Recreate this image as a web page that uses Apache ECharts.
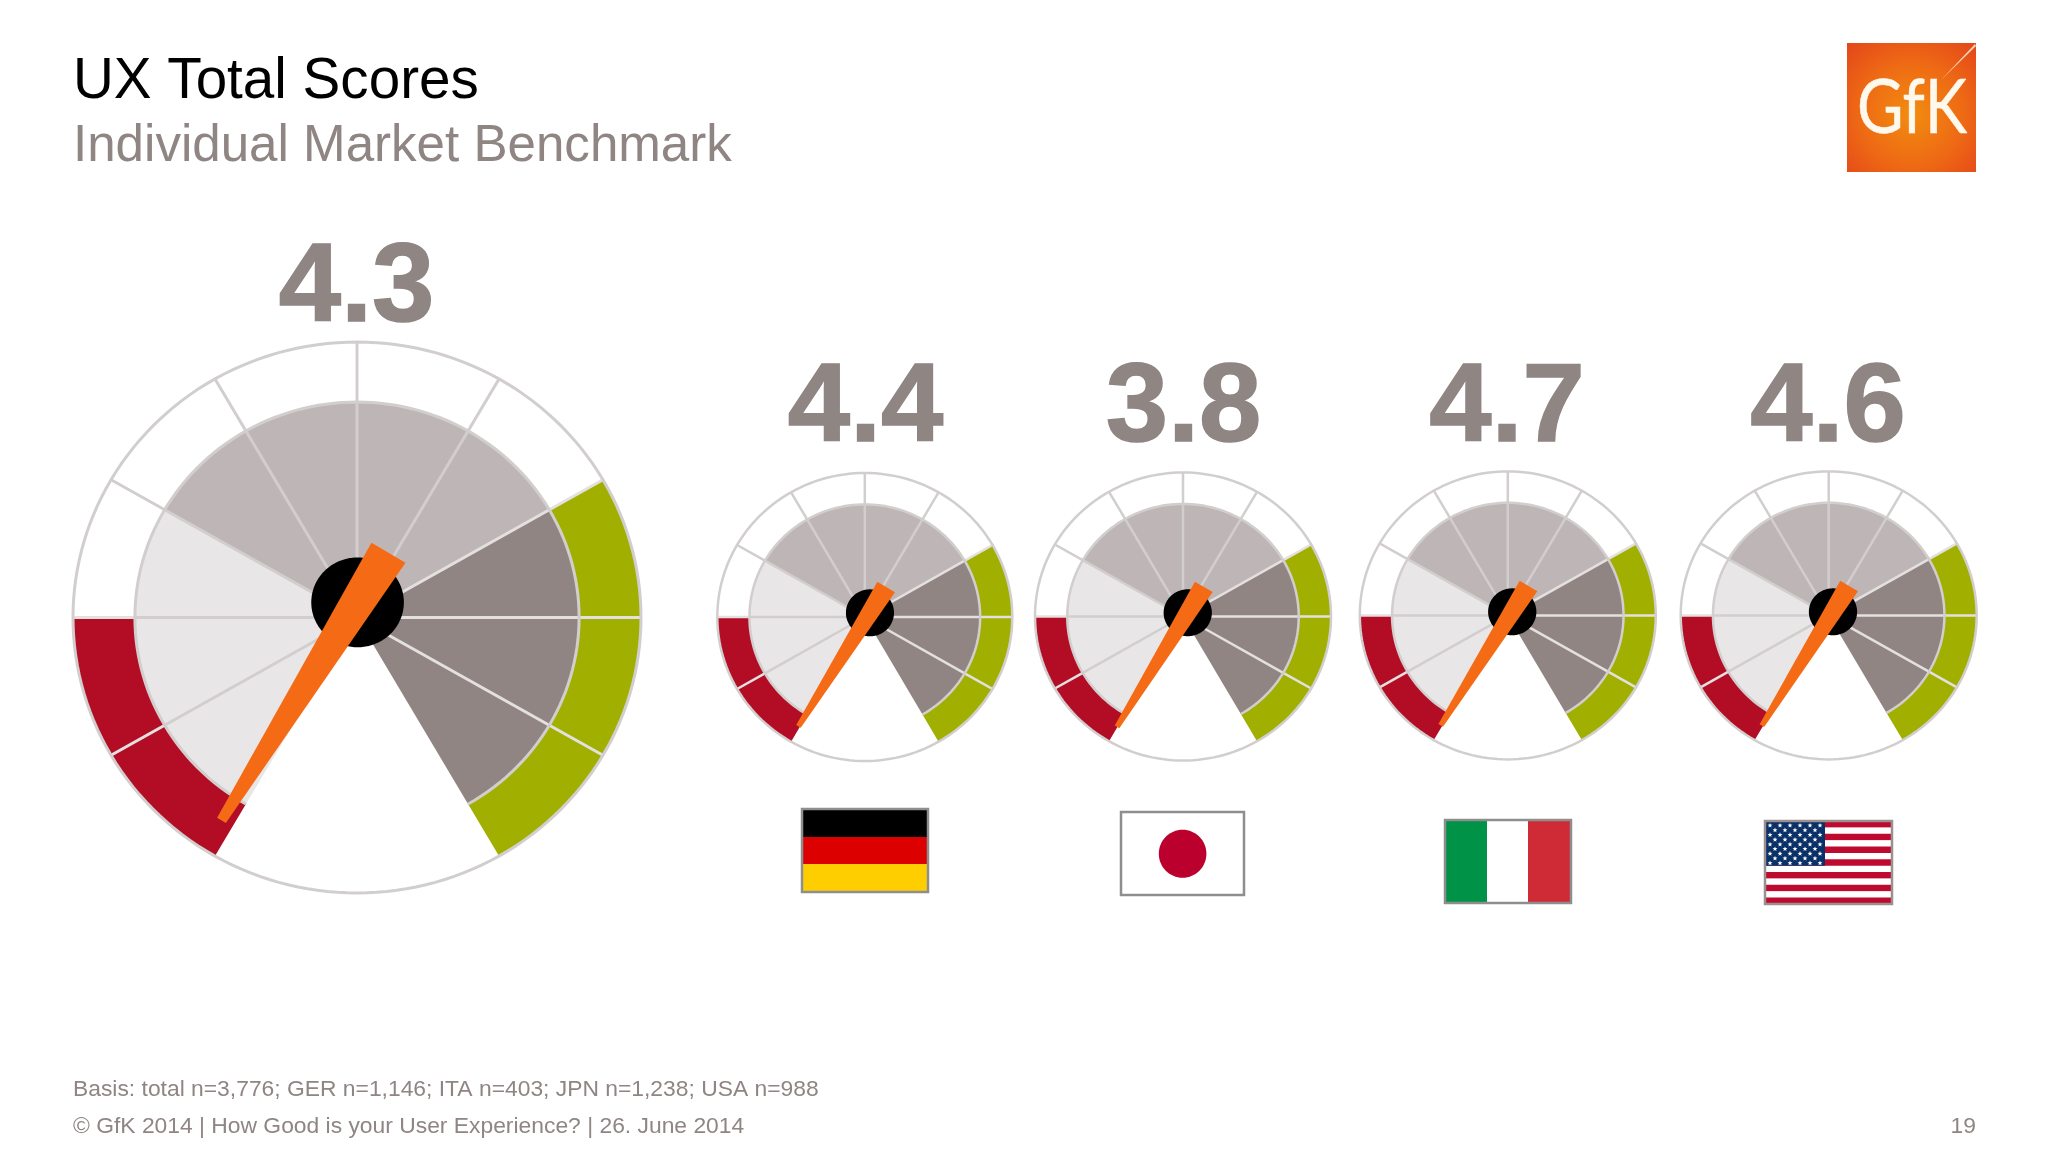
<!DOCTYPE html>
<html><head><meta charset="utf-8">
<style>html,body{margin:0;padding:0;background:#fff}#c{width:2048px;height:1152px}</style>
<script src="https://cdn.jsdelivr.net/npm/echarts@6/dist/echarts.min.js"></script>
</head><body><div id="c"></div>
<script>
// ---- data ----
const markets = ['Total', 'GER', 'JPN', 'ITA', 'USA'];
const scores = ['4.3', '4.4', '3.8', '4.7', '4.6'];
const needleAngles = [238.8, 238.4, 238.9, 238.5, 238.7]; // degrees, math convention
const sectorStart = 240, sectorStep = 30;                 // sectors run clockwise
const innerTones = ['light','light','light','mid','mid','mid','mid','dark','dark','dark'];
const outerTones = ['red','red','blank','blank','blank','blank','blank','green','green','green'];
const spokeAngles = [210,180,150,120,90,60,30,0,-30];
const titleText = 'UX Total Scores';
const subtitleText = 'Individual Market Benchmark';
const basisText = 'Basis: total n=3,776; GER n=1,146; ITA n=403; JPN n=1,238; USA n=988';
const footerText = '\u00A9 GfK 2014 | How Good is your User Experience? | 26. June 2014';
const pageNumber = '19';

// ---- layout and style ----
const layout = [
  {cx:357,    cy:617.5, rx:284,   ry:275.5, hx:0.002, hy:0.055, lw:3,   labelX:351.5,  labelBase:325},
  {cx:864.8,  cy:617,   rx:147.5, ry:144,   hx:0.035, hy:0.029, lw:2.5, labelX:860.5,  labelBase:445},
  {cx:1183,   cy:616.5, rx:148,   ry:144,   hx:0.032, hy:0.026, lw:2.5, labelX:1178.5, labelBase:445},
  {cx:1507.8, cy:615.4, rx:148,   ry:144,   hx:0.030, hy:0.025, lw:2.5, labelX:1502,   labelBase:445},
  {cx:1828.7, cy:615.4, rx:148,   ry:144,   hx:0.029, hy:0.025, lw:2.5, labelX:1823,   labelBase:445}
];
const tone = {light:'#E8E6E6', mid:'#BEB6B6', dark:'#908582', red:'#B30D26', green:'#A1B000', blank:'#FFFFFF'};
const lineGrey = '#D2CECE', lineOnColour = '#E4E0E0';
const innerR = 0.782, hubR = 0.163;
const sans = '"Liberation Sans", Arial, sans-serif';
const greyText = '#8F8583';

function arcPts(r, a0, a1){
  const n = Math.max(2, Math.ceil(Math.abs(a1-a0)/2)), p = [];
  for (let i=0;i<=n;i++){ const a=(a0+(a1-a0)*i/n)*Math.PI/180; p.push([r*Math.cos(a), r*Math.sin(a)]); }
  return p;
}
function makeRows(g){
  const rows = [];
  outerTones.forEach((t,i)=>{ const a=sectorStart-i*sectorStep; rows.push(['ring', a, a-sectorStep, innerR, 1, t]); });
  innerTones.forEach((t,i)=>{ const a=sectorStart-i*sectorStep; rows.push(['ring', a, a-sectorStep, 0, innerR, t]); });
  spokeAngles.forEach(a=>rows.push(['spoke', a, a, 0, 1, '']));
  rows.push(['inner', sectorStart, sectorStart-300, innerR, innerR, '']);
  rows.push(['outer', 0, 360, 1, 1, '']);
  rows.push(['hub', 0, 360, 0, hubR, '']);
  rows.push(['needle', needleAngles[g], needleAngles[g], 0, 0, '']);
  return rows;
}
function renderer(g){
  const L = layout[g];
  return function(params, api){
    const kind = api.value(0), a0 = api.value(1), a1 = api.value(2), r0 = api.value(3), r1 = api.value(4), t = api.value(5);
    const C = pts => pts.map(p=>api.coord(p));
    if (kind==='ring'){
      const pts = arcPts(r1,a0,a1).concat(r0>0 ? arcPts(r0,a1,a0) : [[0,0]]);
      return {type:'polygon', shape:{points:C(pts)}, style:{fill:tone[t]}};
    }
    if (kind==='spoke'){
      const col = (a0<=30 && a0>=-30) || a0===180 || a0===210 ? lineOnColour : lineGrey;
      const rad=a0*Math.PI/180, c=Math.cos(rad), s=Math.sin(rad);
      const inner = {type:'line', shape:(()=>{const q=C([[0,0],[innerR*c,innerR*s]]);return{x1:q[0][0],y1:q[0][1],x2:q[1][0],y2:q[1][1]}})(), style:{stroke:(a0<=30&&a0>=-30)?lineOnColour:lineGrey, lineWidth:L.lw}};
      const outer = {type:'line', shape:(()=>{const q=C([[innerR*c,innerR*s],[c,s]]);return{x1:q[0][0],y1:q[0][1],x2:q[1][0],y2:q[1][1]}})(), style:{stroke:col, lineWidth:L.lw}};
      return {type:'group', children:[inner, outer]};
    }
    if (kind==='inner' || kind==='outer'){
      return {type:'polyline', shape:{points:C(arcPts(r1,a0,a1))}, style:{stroke:lineGrey, lineWidth:L.lw, fill:null}};
    }
    const hx=L.hx, hy=L.hy;
    if (kind==='hub'){
      const pts = arcPts(r1,0,360).map(p=>[p[0]+hx,p[1]+hy]);
      return {type:'polygon', shape:{points:C(pts)}, style:{fill:'#000'}};
    }
    // needle
    const rad=a0*Math.PI/180, c=Math.cos(rad), s=Math.sin(rad), nx=-s, ny=c;
    const tip=[hx+c*0.925,hy+s*0.925], tail=[hx-c*0.21,hy-s*0.21], wB=0.07, wT=0.018;
    const pts=[[tail[0]+nx*wB,tail[1]+ny*wB],[tip[0]+nx*wT,tip[1]+ny*wT],[tip[0]-nx*wT,tip[1]-ny*wT],[tail[0]-nx*wB,tail[1]-ny*wB]];
    return {type:'polygon', shape:{points:C(pts)}, style:{fill:'#F56A14'}};
  };
}
const grids = layout.map(L=>({left:L.cx-L.rx, top:L.cy-L.ry, width:2*L.rx, height:2*L.ry}));
const axis = i => ({type:'value', gridIndex:i, min:-1, max:1, show:false});
const series = layout.map((L,g)=>({
  type:'custom', name:markets[g], xAxisIndex:g, yAxisIndex:g, coordinateSystem:'cartesian2d',
  clip:false, silent:true, animation:false, renderItem:renderer(g),
  dimensions:['kind','a0','a1','r0','r1','tone'], encode:{x:3,y:4},
  data:makeRows(g)
}));

// titles
const titles = [
  {text:titleText, left:68, top:49, textStyle:{fontFamily:sans,fontWeight:'normal',fontSize:56.6,color:'#000'}},
  {text:subtitleText, left:68, top:116, textStyle:{fontFamily:sans,fontWeight:'normal',fontSize:51.1,color:greyText}},
  {text:basisText, left:68, top:1073.5, textStyle:{fontFamily:sans,fontWeight:'normal',fontSize:22.85,color:greyText}},
  {text:footerText, left:68, top:1110, textStyle:{fontFamily:sans,fontWeight:'normal',fontSize:22.85,color:greyText}},
  {text:pageNumber, right:67, top:1110, textStyle:{fontFamily:sans,fontWeight:'normal',fontSize:22.85,color:greyText}}
].concat(scores.map((s,g)=>({
  text:s, left:layout[g].labelX, textAlign:'center', top:layout[g].labelBase-96,
  textStyle:{fontFamily:sans,fontWeight:'bold',fontSize:112,color:greyText,textBorderColor:greyText,textBorderWidth:1.5}
})));

// flags & logo
const R=(x,y,w,h,fill,stroke,lw)=>({type:'rect',shape:{x,y,width:w,height:h},style:{fill,stroke:stroke||null,lineWidth:lw||0},silent:true});
const flagBorder='#8E8E8E';
const gfx=[];
// Germany
gfx.push(R(802,809,126,28,'#000'),R(802,837,126,28,'#DD0000'),R(802,864,126,28,'#FFCE00'),R(802,809,126,83,null,flagBorder,2.5));
// Japan
gfx.push(R(1121,812,123,83,'#fff',flagBorder,2.5),{type:'ellipse',shape:{cx:1182.6,cy:853.7,rx:23.8,ry:24},style:{fill:'#BC002D'},silent:true});
// Italy
gfx.push(R(1445,820,42,83,'#009246'),R(1487,820,41,83,'#fff'),R(1528,820,43,83,'#CE2B37'),R(1445,820,126,83,null,flagBorder,2.5));
// USA
const usX=1765, usY=821, usW=127, usH=83, sh=usH/13;
for(let i=0;i<13;i++) gfx.push(R(usX,usY+i*sh,usW,sh+0.3,i%2?'#fff':'#BF0A30'));
gfx.push(R(usX,usY,60,sh*7,'#0A3068'));
for(let row=0;row<9;row++){ const n=row%2?5:6; for(let i=0;i<n;i++){
  const x=usX+5+(row%2?5:0)+i*10, y=usY+4.5+row*4.7; const pts=[];
  for(let k=0;k<10;k++){ const r=k%2?1.1:2.6, a=-Math.PI/2+k*Math.PI/5; pts.push([x+r*Math.cos(a),y+r*Math.sin(a)]); }
  gfx.push({type:'polygon',shape:{points:pts},style:{fill:'#fff'},silent:true});
}}
gfx.push(R(usX,usY,usW,usH,null,'#9A9090',2.5));
// logo
gfx.push({type:'rect',shape:{x:1847,y:43,width:129,height:129},silent:true,style:{fill:new echarts.graphic.RadialGradient(0.5,0.55,0.72,[{offset:0,color:'#F28C10'},{offset:0.55,color:'#EE6A14'},{offset:1,color:'#E5481A'}])}});
gfx.push({type:'polygon',shape:{points:[[1941,80],[1975,44],[1976,46]]},style:{fill:'#FBD9B8'},silent:true});
gfx.push({type:'text',silent:true,x:1912,y:108,scaleX:0.84,style:{text:'GfK',x:0,y:0,align:'center',verticalAlign:'middle',font:'400 76px Lato, sans-serif',fill:'#FFF8EC',stroke:'#FFF8EC',lineWidth:0.5}});

const chart=echarts.init(document.getElementById('c'),null,{renderer:'canvas',width:2048,height:1152});
chart.setOption({animation:false,backgroundColor:'#fff',title:titles,grid:grids,
  xAxis:layout.map((_,i)=>axis(i)),yAxis:layout.map((_,i)=>axis(i)),series,graphic:{elements:gfx}});
</script></body></html>
